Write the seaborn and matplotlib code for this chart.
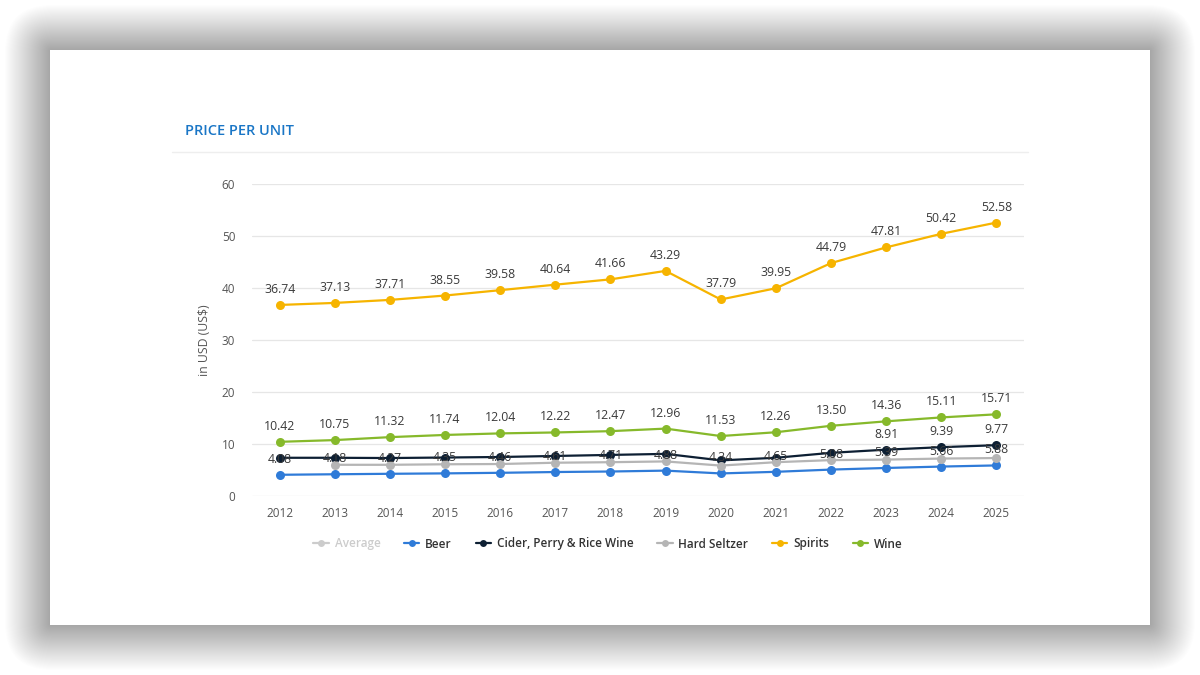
import matplotlib.pyplot as plt
from matplotlib.patches import FancyBboxPatch, Rectangle
from matplotlib.lines import Line2D
import pandas as pd
import seaborn as sns

years = list(range(2012, 2026))
beer = [4.08, 4.18, 4.27, 4.35, 4.46, 4.61, 4.71, 4.88, 4.34, 4.65, 5.08, 5.39, 5.66, 5.88]
cider = [7.35, 7.35, 7.3, 7.4, 7.5, 7.7, 7.9, 8.1, 6.85, 7.35, 8.3, 8.91, 9.39, 9.77]
seltzer_years = list(range(2013, 2026))
seltzer = [6.0, 6.0, 6.1, 6.15, 6.4, 6.5, 6.65, 5.85, 6.5, 6.9, 7.0, 7.2, 7.3]
spirits = [36.74, 37.13, 37.71, 38.55, 39.58, 40.64, 41.66, 43.29, 37.79, 39.95, 44.79, 47.81, 50.42, 52.58]
wine = [10.42, 10.75, 11.32, 11.74, 12.04, 12.22, 12.47, 12.96, 11.53, 12.26, 13.50, 14.36, 15.11, 15.71]

series_names = ['Average', 'Beer', 'Cider, Perry & Rice Wine', 'Hard Seltzer', 'Spirits', 'Wine']
colors = {'Average': '#cccccc', 'Beer': '#2f7bd8', 'Cider, Perry & Rice Wine': '#0d1f33',
          'Hard Seltzer': '#b5b5b5', 'Spirits': '#f6b400', 'Wine': '#86b92b'}

rows = []
for name, xs, vals in [('Beer', years, beer), ('Cider, Perry & Rice Wine', years, cider),
                       ('Hard Seltzer', seltzer_years, seltzer), ('Spirits', years, spirits),
                       ('Wine', years, wine)]:
    for x, v in zip(xs, vals):
        rows.append({'year': x, 'value': v, 'series': name})
df = pd.DataFrame(rows)

sns.set_style('white')
plt.rcParams['font.family'] = ['Open Sans', 'DejaVu Sans']

fig = plt.figure(figsize=(12, 6.75), dpi=100)
fig.patch.set_facecolor('white')

# card + soft shadow
bg = fig.add_axes([0, 0, 1, 1], zorder=-10)
bg.set_xlim(0, 1200)
bg.set_ylim(675, 0)
bg.axis('off')
n = 44
for i in range(n):
    p = 45 * (n - i) / n
    bg.add_patch(FancyBboxPatch((50, 50), 1100, 575,
                                boxstyle=f'round,pad={p},rounding_size={p + 2}',
                                facecolor='black', edgecolor='none', alpha=0.0074))
bg.add_patch(Rectangle((50, 50), 1100, 575, facecolor='white', edgecolor='none'))
bg.plot([172, 1028], [152, 152], color='#eeeeee', lw=1)
bg.text(185, 131, 'PRICE PER UNIT', color='#1a76c6', fontsize=10.5,
        fontweight='semibold', va='center', ha='left')

ax = fig.add_axes([252 / 1200, 1 - 496 / 675, (1024 - 252) / 1200, (496 - 184) / 675])
ax.set_facecolor('none')

plot_order = ['Beer', 'Cider, Perry & Rice Wine', 'Hard Seltzer', 'Spirits', 'Wine']
for k, name in enumerate(plot_order):
    sub = df[df['series'] == name]
    sns.lineplot(data=sub, x='year', y='value', color=colors[name], marker='o',
                 markersize=6.5, markeredgewidth=0, linewidth=1.6, ax=ax,
                 legend=False, zorder=3 + k, clip_on=False)

ax.set_xlim(2011.5, 2025.5)
ax.set_ylim(0, 60)
ax.set_xticks(years)
ax.set_yticks(range(0, 61, 10))
ax.grid(axis='y', color='#e6e6e6', linewidth=0.9)
ax.grid(axis='x', visible=False)
sns.despine(ax=ax, left=True, bottom=True)
ax.tick_params(axis='both', length=0, labelsize=8.5, labelcolor='#555555')
ax.tick_params(axis='y', pad=12)
ax.tick_params(axis='x', pad=8)
ax.set_xlabel('')
ax.set_ylabel('in USD (US$)', fontsize=8.8, color='#555555', labelpad=8)

label_sets = [(years, beer), (years, spirits), (years, wine),
              (years[-3:], cider[-3:])]
for xs, vals in label_sets:
    for x, v in zip(xs, vals):
        ax.annotate(f'{v:.2f}', (x, v), xytext=(0, 6.5), textcoords='offset points',
                    ha='center', va='bottom', fontsize=8.8, color='#3a3a3a',
                    zorder=20, annotation_clip=False)

handles = [Line2D([0], [0], color=colors[s], marker='o', markersize=5, lw=1.6,
                  markeredgewidth=0) for s in series_names]
leg = fig.legend(handles, series_names, loc='center', bbox_to_anchor=(608 / 1200, 1 - 544 / 675),
                 ncol=6, frameon=False, handlelength=1.3, handletextpad=0.5,
                 columnspacing=2.0, prop={'size': 8.5, 'weight': 'semibold'})
for t, s in zip(leg.get_texts(), series_names):
    t.set_color('#cccccc' if s == 'Average' else '#333333')

fig.savefig('out.png', dpi=100)
plt.close()
